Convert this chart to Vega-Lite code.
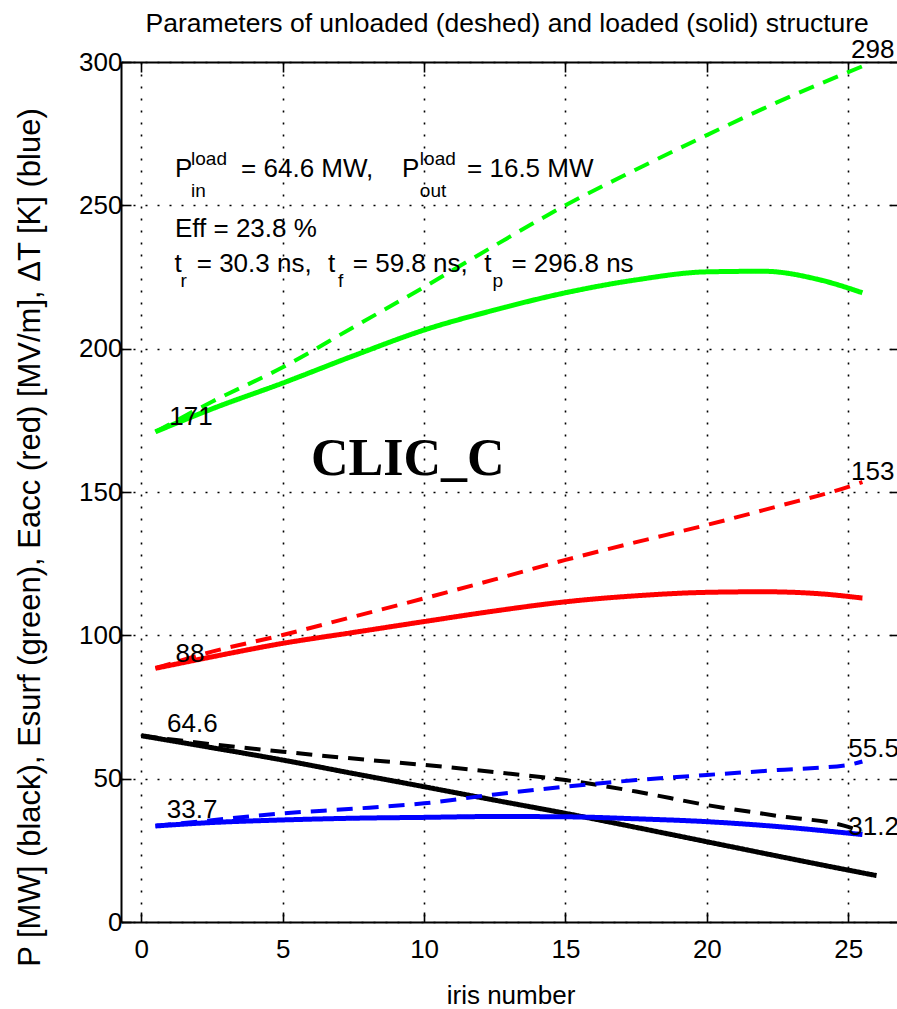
{
  "$schema": "https://vega.github.io/schema/vega-lite/v6.json",
  "width": 779,
  "height": 860,
  "autosize": "none",
  "padding": {"left": 121, "top": 62, "right": 0, "bottom": 87},
  "background": "white",
  "config": {"view": {"stroke": null}},
  "datasets": {
    "curves": [
      {"c": "Esurf", "s": "unloaded", "x": 0.5, "y": 171},
      {"c": "Esurf", "s": "unloaded", "x": 2.5, "y": 181.5},
      {"c": "Esurf", "s": "unloaded", "x": 5, "y": 193.5},
      {"c": "Esurf", "s": "unloaded", "x": 7.5, "y": 207.5},
      {"c": "Esurf", "s": "unloaded", "x": 10, "y": 221.5},
      {"c": "Esurf", "s": "unloaded", "x": 12.5, "y": 236},
      {"c": "Esurf", "s": "unloaded", "x": 15, "y": 250},
      {"c": "Esurf", "s": "unloaded", "x": 17.5, "y": 262.5},
      {"c": "Esurf", "s": "unloaded", "x": 20, "y": 274.5},
      {"c": "Esurf", "s": "unloaded", "x": 22.5, "y": 286},
      {"c": "Esurf", "s": "unloaded", "x": 25.5, "y": 298.5},
      {"c": "Esurf", "s": "loaded", "x": 0.5, "y": 171},
      {"c": "Esurf", "s": "loaded", "x": 2.5, "y": 179},
      {"c": "Esurf", "s": "loaded", "x": 5, "y": 188},
      {"c": "Esurf", "s": "loaded", "x": 7.5, "y": 197.5},
      {"c": "Esurf", "s": "loaded", "x": 10, "y": 206.5},
      {"c": "Esurf", "s": "loaded", "x": 12.5, "y": 213.5},
      {"c": "Esurf", "s": "loaded", "x": 15, "y": 219.5},
      {"c": "Esurf", "s": "loaded", "x": 17.5, "y": 224},
      {"c": "Esurf", "s": "loaded", "x": 20, "y": 226.8},
      {"c": "Esurf", "s": "loaded", "x": 22, "y": 227},
      {"c": "Esurf", "s": "loaded", "x": 24, "y": 224},
      {"c": "Esurf", "s": "loaded", "x": 25.5, "y": 219.5},
      {"c": "Eacc", "s": "unloaded", "x": 0.5, "y": 88.5},
      {"c": "Eacc", "s": "unloaded", "x": 2.5, "y": 94.3},
      {"c": "Eacc", "s": "unloaded", "x": 5, "y": 100.1},
      {"c": "Eacc", "s": "unloaded", "x": 7.5, "y": 106.5},
      {"c": "Eacc", "s": "unloaded", "x": 10, "y": 112.9},
      {"c": "Eacc", "s": "unloaded", "x": 12.5, "y": 119.5},
      {"c": "Eacc", "s": "unloaded", "x": 15, "y": 126.3},
      {"c": "Eacc", "s": "unloaded", "x": 17.5, "y": 132.5},
      {"c": "Eacc", "s": "unloaded", "x": 20, "y": 138.5},
      {"c": "Eacc", "s": "unloaded", "x": 22.5, "y": 145},
      {"c": "Eacc", "s": "unloaded", "x": 25, "y": 151.8},
      {"c": "Eacc", "s": "unloaded", "x": 25.5, "y": 153.5},
      {"c": "Eacc", "s": "loaded", "x": 0.5, "y": 88.5},
      {"c": "Eacc", "s": "loaded", "x": 2.5, "y": 92.5},
      {"c": "Eacc", "s": "loaded", "x": 5, "y": 97.2},
      {"c": "Eacc", "s": "loaded", "x": 7.5, "y": 101},
      {"c": "Eacc", "s": "loaded", "x": 10, "y": 104.8},
      {"c": "Eacc", "s": "loaded", "x": 12.5, "y": 108.5},
      {"c": "Eacc", "s": "loaded", "x": 15, "y": 111.7},
      {"c": "Eacc", "s": "loaded", "x": 17.5, "y": 113.8},
      {"c": "Eacc", "s": "loaded", "x": 20, "y": 115},
      {"c": "Eacc", "s": "loaded", "x": 22, "y": 115.2},
      {"c": "Eacc", "s": "loaded", "x": 24, "y": 114.5},
      {"c": "Eacc", "s": "loaded", "x": 25.5, "y": 113},
      {"c": "P", "s": "unloaded", "x": 0, "y": 65},
      {"c": "P", "s": "unloaded", "x": 2.5, "y": 62},
      {"c": "P", "s": "unloaded", "x": 5, "y": 59.4},
      {"c": "P", "s": "unloaded", "x": 7.5, "y": 57},
      {"c": "P", "s": "unloaded", "x": 10, "y": 54.8},
      {"c": "P", "s": "unloaded", "x": 12.5, "y": 52.3},
      {"c": "P", "s": "unloaded", "x": 15, "y": 49.5},
      {"c": "P", "s": "unloaded", "x": 17.5, "y": 45.5},
      {"c": "P", "s": "unloaded", "x": 20, "y": 40.8},
      {"c": "P", "s": "unloaded", "x": 22.5, "y": 37},
      {"c": "P", "s": "unloaded", "x": 25, "y": 33.2},
      {"c": "P", "s": "unloaded", "x": 25.5, "y": 31.5},
      {"c": "P", "s": "loaded", "x": 0, "y": 65},
      {"c": "P", "s": "loaded", "x": 2.5, "y": 60.8},
      {"c": "P", "s": "loaded", "x": 5, "y": 56.5},
      {"c": "P", "s": "loaded", "x": 7.5, "y": 51.8},
      {"c": "P", "s": "loaded", "x": 10, "y": 47.2},
      {"c": "P", "s": "loaded", "x": 12.5, "y": 42.5},
      {"c": "P", "s": "loaded", "x": 15, "y": 37.9},
      {"c": "P", "s": "loaded", "x": 17.5, "y": 33},
      {"c": "P", "s": "loaded", "x": 20, "y": 28},
      {"c": "P", "s": "loaded", "x": 22.5, "y": 23},
      {"c": "P", "s": "loaded", "x": 25, "y": 18.1},
      {"c": "P", "s": "loaded", "x": 26, "y": 16.2},
      {"c": "dT", "s": "unloaded", "x": 0.5, "y": 33.5},
      {"c": "dT", "s": "unloaded", "x": 2.5, "y": 35.5},
      {"c": "dT", "s": "unloaded", "x": 5, "y": 37.9},
      {"c": "dT", "s": "unloaded", "x": 7.5, "y": 39.5},
      {"c": "dT", "s": "unloaded", "x": 10, "y": 41.4},
      {"c": "dT", "s": "unloaded", "x": 12.5, "y": 44.5},
      {"c": "dT", "s": "unloaded", "x": 15, "y": 47.2},
      {"c": "dT", "s": "unloaded", "x": 17.5, "y": 49.5},
      {"c": "dT", "s": "unloaded", "x": 20, "y": 51.3},
      {"c": "dT", "s": "unloaded", "x": 22.5, "y": 53},
      {"c": "dT", "s": "unloaded", "x": 25, "y": 54.8},
      {"c": "dT", "s": "unloaded", "x": 25.5, "y": 56},
      {"c": "dT", "s": "loaded", "x": 0.5, "y": 33.5},
      {"c": "dT", "s": "loaded", "x": 2.5, "y": 34.7},
      {"c": "dT", "s": "loaded", "x": 5, "y": 35.6},
      {"c": "dT", "s": "loaded", "x": 7.5, "y": 36.2},
      {"c": "dT", "s": "loaded", "x": 10, "y": 36.5},
      {"c": "dT", "s": "loaded", "x": 12.5, "y": 36.8},
      {"c": "dT", "s": "loaded", "x": 15, "y": 36.7},
      {"c": "dT", "s": "loaded", "x": 17.5, "y": 36},
      {"c": "dT", "s": "loaded", "x": 20, "y": 35},
      {"c": "dT", "s": "loaded", "x": 22.5, "y": 33.3},
      {"c": "dT", "s": "loaded", "x": 25, "y": 31},
      {"c": "dT", "s": "loaded", "x": 25.5, "y": 30.5}
    ],
    "numbers": [
      {"x": 25.1, "y": 301.5, "t": "298"},
      {"x": 0.99, "y": 173.4, "t": "171"},
      {"x": 25.1, "y": 154.2, "t": "153"},
      {"x": 1.21, "y": 90.7, "t": "88"},
      {"x": 0.91, "y": 66.3, "t": "64.6"},
      {"x": 0.9, "y": 36.3, "t": "33.7"},
      {"x": 25.0, "y": 57.6, "t": "55.5"},
      {"x": 25.0, "y": 30.3, "t": "31.2"}
    ],
    "notes": [
      {"x": 1.19, "y": 259.9, "t": "P", "k": "m"},
      {"x": 1.76, "y": 264.1, "t": "load", "k": "s"},
      {"x": 1.76, "y": 253.0, "t": "in", "k": "s"},
      {"x": 3.53, "y": 259.9, "t": "=  64.6 MW,", "k": "m"},
      {"x": 9.22, "y": 259.9, "t": "P", "k": "m"},
      {"x": 9.85, "y": 264.1, "t": "load", "k": "s"},
      {"x": 9.85, "y": 253.0, "t": "out", "k": "s"},
      {"x": 11.52, "y": 259.9, "t": "=  16.5 MW", "k": "m"},
      {"x": 1.19, "y": 239.1, "t": "Eff = 23.8 %", "k": "m"},
      {"x": 1.17, "y": 226.9, "t": "t", "k": "m"},
      {"x": 1.39, "y": 221.6, "t": "r", "k": "s"},
      {"x": 1.96, "y": 226.9, "t": "= 30.3 ns,", "k": "m"},
      {"x": 6.6, "y": 226.9, "t": "t", "k": "m"},
      {"x": 6.96, "y": 221.6, "t": "f", "k": "s"},
      {"x": 7.48, "y": 226.9, "t": "= 59.8 ns,", "k": "m"},
      {"x": 12.13, "y": 226.9, "t": "t", "k": "m"},
      {"x": 12.42, "y": 221.6, "t": "p", "k": "s"},
      {"x": 13.09, "y": 226.9, "t": "= 296.8 ns", "k": "m"}
    ],
    "label": [
      {"x": 6.0, "y": 155.9, "t": "CLIC_C"}
    ],
    "heading": [
      {"x": 12.94, "y": 310.5, "t": "Parameters of unloaded (deshed) and loaded (solid) structure"}
    ]
  },
  "resolve": {"axis": {"x": "independent", "y": "independent"}},
  "layer": [
    {
      "data": {"name": "curves"},
      "mark": {"type": "line", "interpolate": "monotone", "clip": true},
      "encoding": {
        "x": {
          "field": "x", "type": "quantitative",
          "scale": {"domain": [-0.718, 26.83], "nice": false, "zero": false},
          "axis": {
            "orient": "bottom", "values": [0, 5, 10, 15, 20, 25], "format": "d",
            "grid": true, "gridColor": "black", "gridDash": [2, 10], "gridWidth": 1.6, "gridOpacity": 1,
            "tickSize": -10, "tickColor": "black", "tickWidth": 1.6,
            "domainColor": "black", "domainWidth": 2,
            "labelFont": "Liberation Sans", "labelFontSize": 26, "labelColor": "black",
            "labelPadding": 24, "labelFlush": false, "labelOverlap": false,
            "title": "iris number", "titleFont": "Liberation Sans", "titleFontSize": 26,
            "titleFontWeight": "normal", "titleColor": "black", "titleY": 81, "titleBaseline": "alphabetic"
          }
        },
        "y": {
          "field": "y", "type": "quantitative",
          "scale": {"domain": [0, 300], "nice": false, "zero": false},
          "axis": {
            "orient": "left", "values": [0, 50, 100, 150, 200, 250, 300], "format": "d",
            "grid": true, "gridColor": "black", "gridDash": [2, 10], "gridWidth": 1.6, "gridOpacity": 1,
            "tickSize": -10, "tickColor": "black", "tickWidth": 1.6,
            "domainColor": "black", "domainWidth": 2,
            "labelFont": "Liberation Sans", "labelFontSize": 26, "labelColor": "black",
            "labelPadding": 9, "labelFlush": false, "labelOverlap": false,
            "title": "P [MW] (black), Esurf (green), Eacc (red) [MV/m], ΔT [K] (blue)",
            "titleFont": "Liberation Sans", "titleFontSize": 31, "titleFontWeight": "normal",
            "titleColor": "black", "titleX": -82, "titleY": 475, "titleAngle": 270,
            "titleAlign": "center", "titleBaseline": "alphabetic"
          }
        },
        "color": {
          "field": "c", "type": "nominal",
          "scale": {"domain": ["P", "Esurf", "Eacc", "dT"], "range": ["#000000", "#00ff00", "#ff0000", "#0000ff"]},
          "legend": null
        },
        "strokeDash": {
          "field": "s", "type": "nominal",
          "scale": {"domain": ["loaded", "unloaded"], "range": [[1, 0], [16, 10]]},
          "legend": null
        },
        "strokeWidth": {
          "field": "s", "type": "nominal",
          "scale": {"domain": ["loaded", "unloaded"], "range": [5, 4]},
          "legend": null
        }
      }
    },
    {
      "data": {"name": "numbers"},
      "mark": {"type": "text", "font": "Liberation Sans", "fontSize": 26, "align": "left", "baseline": "alphabetic", "color": "black"},
      "encoding": {
        "x": {
          "field": "x", "type": "quantitative",
          "axis": {
            "orient": "top", "values": [0, 5, 10, 15, 20, 25], "labels": false, "grid": false,
            "tickSize": -10, "tickColor": "black", "tickWidth": 1.6,
            "domainColor": "black", "domainWidth": 2, "title": null
          }
        },
        "y": {
          "field": "y", "type": "quantitative",
          "axis": {
            "orient": "right", "values": [0, 50, 100, 150, 200, 250, 300], "labels": false, "grid": false,
            "tickSize": -10, "tickColor": "black", "tickWidth": 1.6,
            "domainColor": "black", "domainWidth": 2, "title": null
          }
        },
        "text": {"field": "t"}
      }
    },
    {
      "data": {"name": "notes"},
      "transform": [{"filter": "datum.k == 'm'"}],
      "mark": {"type": "text", "font": "Liberation Sans", "fontSize": 26, "align": "left", "baseline": "alphabetic", "color": "black"},
      "encoding": {
        "x": {"field": "x", "type": "quantitative", "axis": null},
        "y": {"field": "y", "type": "quantitative", "axis": null},
        "text": {"field": "t"}
      }
    },
    {
      "data": {"name": "notes"},
      "transform": [{"filter": "datum.k == 's'"}],
      "mark": {"type": "text", "font": "Liberation Sans", "fontSize": 19, "align": "left", "baseline": "alphabetic", "color": "black"},
      "encoding": {
        "x": {"field": "x", "type": "quantitative", "axis": null},
        "y": {"field": "y", "type": "quantitative", "axis": null},
        "text": {"field": "t"}
      }
    },
    {
      "data": {"name": "label"},
      "mark": {"type": "text", "font": "Liberation Serif", "fontSize": 52, "fontWeight": "bold", "align": "left", "baseline": "alphabetic", "color": "black"},
      "encoding": {
        "x": {"field": "x", "type": "quantitative", "axis": null},
        "y": {"field": "y", "type": "quantitative", "axis": null},
        "text": {"field": "t"}
      }
    },
    {
      "data": {"name": "heading"},
      "mark": {"type": "text", "font": "Liberation Sans", "fontSize": 26.5, "align": "center", "baseline": "alphabetic", "color": "black"},
      "encoding": {
        "x": {"field": "x", "type": "quantitative", "axis": null},
        "y": {"field": "y", "type": "quantitative", "axis": null},
        "text": {"field": "t"}
      }
    }
  ]
}
